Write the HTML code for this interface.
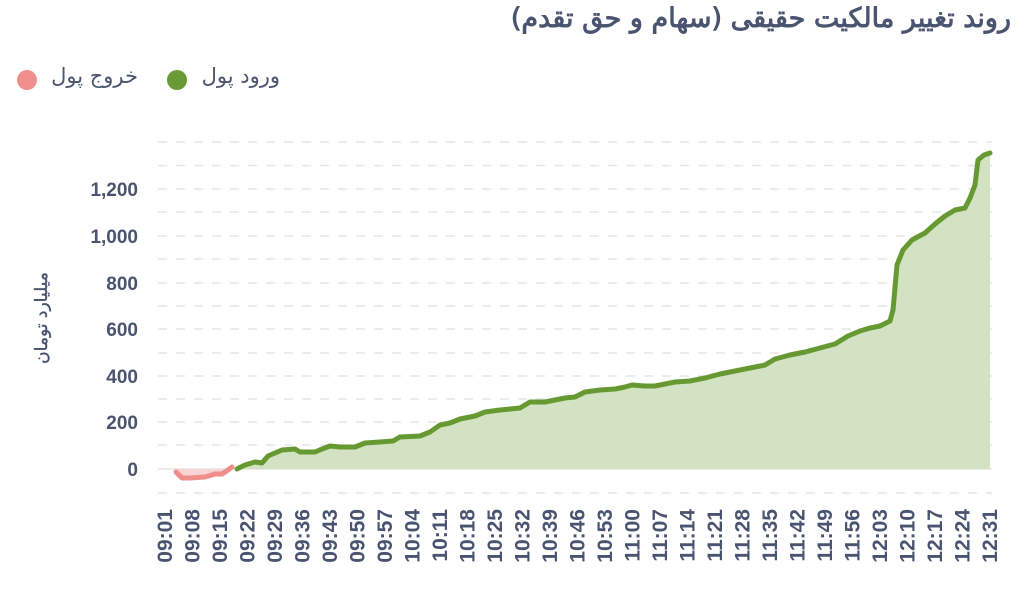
<!DOCTYPE html>
<html><head><meta charset="utf-8"><style>
html,body{margin:0;padding:0;background:#fff;width:1021px;height:601px;overflow:hidden;position:relative}
.t{position:absolute;direction:rtl;font-family:"DejaVu Sans",sans-serif;color:#4a5470;white-space:nowrap}
</style></head><body>
<div class="t" style="right:10px;top:3px;font-size:27px;-webkit-text-stroke:0.9px #4a5470;">روند تغییر مالکیت حقیقی (سهام و حق تقدم)</div>
<div class="t" style="right:741px;top:64px;font-size:21px;">ورود پول</div>
<div class="t" style="right:883px;top:64px;font-size:21px;">خروج پول</div>
<svg width="1021" height="601" xmlns="http://www.w3.org/2000/svg" font-family="Liberation Sans, DejaVu Sans, sans-serif" style="position:absolute;left:0;top:0">
<circle cx="177" cy="80" r="10" fill="#6a9a35"/>
<circle cx="27" cy="80" r="10" fill="#f08e8c"/>
<g stroke="#e6e6e6" stroke-width="1.5" stroke-dasharray="9,9">
<line x1="158" x2="992" y1="142" y2="142"/><line x1="158" x2="992" y1="165.5" y2="165.5"/>
<line x1="158" x2="992" y1="189" y2="189"/><line x1="158" x2="992" y1="212" y2="212"/>
<line x1="158" x2="992" y1="236" y2="236"/><line x1="158" x2="992" y1="259" y2="259"/>
<line x1="158" x2="992" y1="283" y2="283"/><line x1="158" x2="992" y1="306" y2="306"/>
<line x1="158" x2="992" y1="329" y2="329"/><line x1="158" x2="992" y1="353" y2="353"/>
<line x1="158" x2="992" y1="376" y2="376"/><line x1="158" x2="992" y1="399" y2="399"/>
<line x1="158" x2="992" y1="422" y2="422"/><line x1="158" x2="992" y1="445" y2="445"/>
<line x1="158" x2="992" y1="493" y2="493"/>
</g>
<line x1="158" x2="992" y1="469" y2="469" stroke="#e6e6e6" stroke-width="1.5"/>
<g font-size="19" font-weight="bold" fill="#4a5470" text-anchor="end">
<text x="138" y="476">0</text><text x="138" y="429">200</text><text x="138" y="383">400</text>
<text x="138" y="336">600</text><text x="138" y="290">800</text><text x="138" y="243">1,000</text><text x="138" y="196">1,200</text>
</g>
<text transform="translate(47,318) rotate(-90)" text-anchor="middle" font-family="DejaVu Sans, sans-serif" font-size="17" fill="#4a5470" stroke="#4a5470" stroke-width="0.4">میلیارد تومان</text>
<path d="M176,469 L176,472 L182,478 L190,478 L205,477 L215,474 L222,474 L228,470 L232,467 L232,469 Z" fill="#f8d4d4"/>
<polyline points="176,472 182,478 190,478 205,477 215,474 222,474 228,470 232,467" fill="none" stroke="#f08e8c" stroke-width="5" stroke-linejoin="round" stroke-linecap="round"/>
<path d="M237,469 L245,465 L255,462 L262,463 L268,456 L275,453 L282,450 L295,449 L300,452 L315,452 L322,449 L330,446 L340,447 L355,447 L365,443 L380,442 L393,441 L400,437 L420,436 L430,432 L440,425 L450,423 L460,419 L475,416 L485,412 L500,410 L510,409 L520,408 L530,402 L545,402 L555,400 L565,398 L575,397 L585,392 L600,390 L615,389 L625,387 L632,385 L645,386 L655,386 L665,384 L675,382 L690,381 L705,378 L720,374 L735,371 L750,368 L765,365 L775,359 L790,355 L805,352 L820,348 L835,344 L848,336 L860,331 L870,328 L880,326 L890,321 L893,310 L897,265 L903,250 L912,240 L925,233 L935,224 L945,216 L955,210 L965,208 L970,198 L975,185 L978,160 L984,155 L990,153 L990,469 Z" fill="#d3e2c3"/>
<polyline points="237,469 245,465 255,462 262,463 268,456 275,453 282,450 295,449 300,452 315,452 322,449 330,446 340,447 355,447 365,443 380,442 393,441 400,437 420,436 430,432 440,425 450,423 460,419 475,416 485,412 500,410 510,409 520,408 530,402 545,402 555,400 565,398 575,397 585,392 600,390 615,389 625,387 632,385 645,386 655,386 665,384 675,382 690,381 705,378 720,374 735,371 750,368 765,365 775,359 790,355 805,352 820,348 835,344 848,336 860,331 870,328 880,326 890,321 893,310 897,265 903,250 912,240 925,233 935,224 945,216 955,210 965,208 970,198 975,185 978,160 984,155 990,153" fill="none" stroke="#669932" stroke-width="5" stroke-linejoin="round" stroke-linecap="round"/>
<g font-size="21" font-weight="bold" fill="#4a5470" text-anchor="end">
<text transform="translate(172,509) rotate(-90)">09:01</text>
<text transform="translate(199.5,509) rotate(-90)">09:08</text>
<text transform="translate(227,509) rotate(-90)">09:15</text>
<text transform="translate(254.5,509) rotate(-90)">09:22</text>
<text transform="translate(282,509) rotate(-90)">09:29</text>
<text transform="translate(309.5,509) rotate(-90)">09:36</text>
<text transform="translate(337,509) rotate(-90)">09:43</text>
<text transform="translate(364.5,509) rotate(-90)">09:50</text>
<text transform="translate(392,509) rotate(-90)">09:57</text>
<text transform="translate(419.5,509) rotate(-90)">10:04</text>
<text transform="translate(447,509) rotate(-90)">10:11</text>
<text transform="translate(474.5,509) rotate(-90)">10:18</text>
<text transform="translate(502,509) rotate(-90)">10:25</text>
<text transform="translate(529.5,509) rotate(-90)">10:32</text>
<text transform="translate(557,509) rotate(-90)">10:39</text>
<text transform="translate(584.5,509) rotate(-90)">10:46</text>
<text transform="translate(612,509) rotate(-90)">10:53</text>
<text transform="translate(639.5,509) rotate(-90)">11:00</text>
<text transform="translate(667,509) rotate(-90)">11:07</text>
<text transform="translate(694.5,509) rotate(-90)">11:14</text>
<text transform="translate(722,509) rotate(-90)">11:21</text>
<text transform="translate(749.5,509) rotate(-90)">11:28</text>
<text transform="translate(777,509) rotate(-90)">11:35</text>
<text transform="translate(804.5,509) rotate(-90)">11:42</text>
<text transform="translate(832,509) rotate(-90)">11:49</text>
<text transform="translate(859.5,509) rotate(-90)">11:56</text>
<text transform="translate(887,509) rotate(-90)">12:03</text>
<text transform="translate(914.5,509) rotate(-90)">12:10</text>
<text transform="translate(942,509) rotate(-90)">12:17</text>
<text transform="translate(969.5,509) rotate(-90)">12:24</text>
<text transform="translate(997,509) rotate(-90)">12:31</text>
</g>
</svg>
</body></html>
